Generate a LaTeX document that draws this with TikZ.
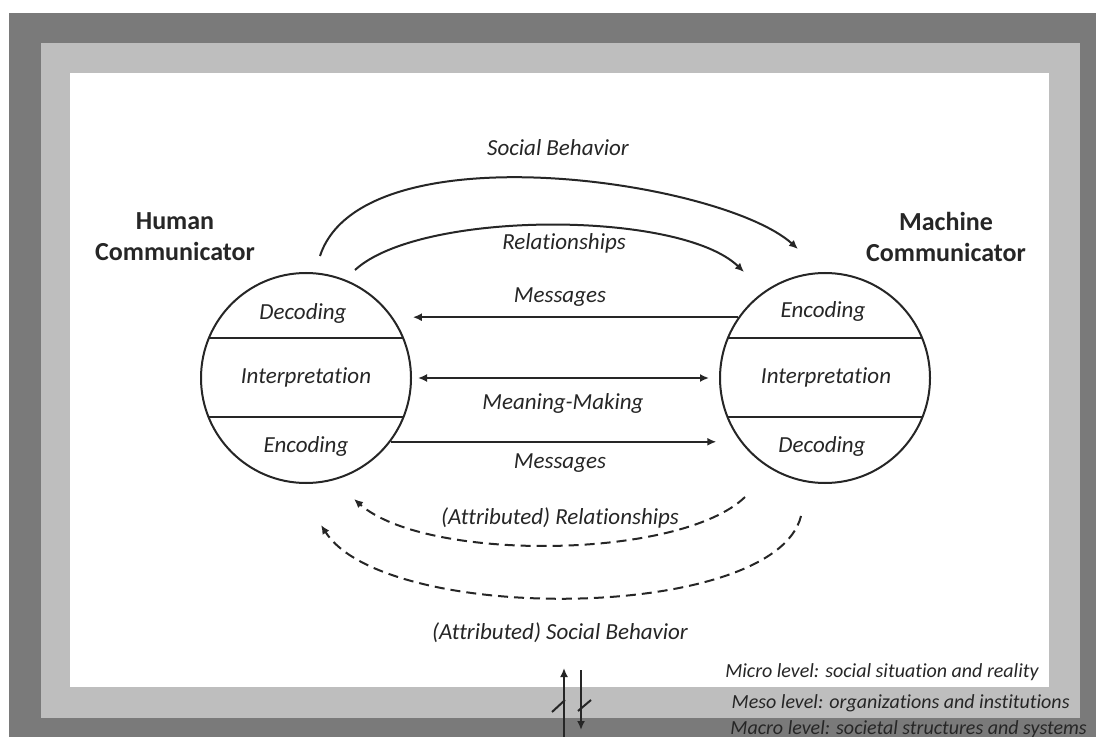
\documentclass[tikz,border=0pt]{standalone}
\usepackage{fontspec}
\setmainfont{Carlito}[Ligatures={NoCommon}]
\usetikzlibrary{arrows.meta, calc}
\definecolor{macrogray}{HTML}{7A7A7A}
\definecolor{mesogray}{HTML}{BEBEBE}
\definecolor{ink}{HTML}{262626}
\tikzset{
	lbl/.style={font=\itshape\fontsize{11.5}{13}\selectfont, text=ink, inner sep=1pt},
	lvl/.style={font=\itshape\fontsize{10}{12}\selectfont, text=ink, inner sep=0pt},
	who/.style={font=\bfseries\fontsize{13}{15.5}\selectfont, text=ink, align=center},
	comm/.style={circle, draw=ink, line width=1pt, minimum size=105pt, inner sep=0pt},
	flow/.style={draw=ink, line width=1pt},
	attr/.style={flow, dash pattern=on 5pt off 3pt},
}

\begin{document}
\begin{tikzpicture}[x=0.5pt, y=-0.5pt, >={Latex[length=4.5pt,width=4pt]}]
		\useasboundingbox (0,0) rectangle (1096,737);
		% Levels: macro, meso, micro
		\fill[macrogray] (9,13) rectangle (1100,740);
		\fill[mesogray] (41,43) rectangle (1080,718);
		\fill[white] (70,73) rectangle (1049,687);
		\node[lvl, anchor=east] (micro) at (1039,672) {Micro level: social situation and reality};
		\node[lvl, anchor=east] (meso) at (1070,703) {Meso level: organizations and institutions};
		\node[lvl, anchor=west] (macro) at (730,729) {Macro level: societal structures and systems};
		% Communicators
		\node[comm] (hum) at (306,378) {};
		\node[comm] (mach) at (825,378) {};
		\node[who] (hum-name) at (175,237) {Human\\Communicator};
		\node[who] (mach-name) at (946,237) {Machine\\Communicator};
		% Layers inside the circles
		\foreach \c in {hum, mach} {
			\draw[ink, line width=1pt] ($(\c.center)+(-97,-40)$) -- ($(\c.center)+(97,-40)$);
			\draw[ink, line width=1pt] ($(\c.center)+(-97,39)$) -- ($(\c.center)+(97,39)$);
		}
		\node[lbl] (hum-dec) at (303,313) {Decoding};
		\node[lbl] (hum-int) at (306,377) {Interpretation};
		\node[lbl] (hum-enc) at (306,446) {Encoding};
		\node[lbl] (mach-enc) at (823,311) {Encoding};
		\node[lbl] (mach-int) at (826,377) {Interpretation};
		\node[lbl] (mach-dec) at (822,446) {Decoding};
		% Messages and meaning-making
		\draw[flow, ->, shorten >=10pt] (mach.145) -- (hum.35);
		\draw[flow, <->, shorten <=3pt, shorten >=5pt] (hum.east) -- (mach.west);
		\draw[flow, ->, shorten >=12pt] (hum.-37.5) -- (mach.217.5);
		\node[lbl] (msg-in) at (560,297) {Messages};
		\node[lbl] (meaning) at (563,403) {Meaning-Making};
		\node[lbl] (msg-out) at (560,463) {Messages};
		% Upper arcs
		\coordinate (sb-from) at (320,256);
		\coordinate (sb-to) at (798,249);
		\coordinate (rel-from) at (355,270);
		\coordinate (rel-to) at (744,272);
		\draw[flow, ->] (sb-from) .. controls (362,128) and (721,180) .. (sb-to);
		\draw[flow, ->] (rel-from) .. controls (420,210) and (680,210) .. (rel-to);
		\node[lbl] (social) at (558,148) {Social Behavior};
		\node[lbl] (rel) at (564,243) {Relationships};
		% Lower arcs, dashed
		\coordinate (arel-from) at (745,497);
		\coordinate (arel-to) at (354,499);
		\coordinate (asb-from) at (801,516);
		\coordinate (asb-to) at (321,525);
		\draw[attr, ->] (arel-from) .. controls (680,560) and (425,562) .. (arel-to);
		\draw[attr, ->] (asb-from) .. controls (775,622) and (385,625) .. (asb-to);
		\node[lbl] (arel) at (560,518) {(Attributed) Relationships};
		\node[lbl] (asb) at (560,633) {(Attributed) Social Behavior};
		% Between the levels
		\coordinate (up-from) at (564,740);
		\coordinate (up-to) at (564,668);
		\coordinate (down-from) at (581,670);
		\coordinate (down-to) at (581,730);
		\draw[flow, ->] (up-from) -- (up-to);
		\draw[flow, ->] (down-from) -- (down-to);
		\draw[ink, line width=1pt] (552,712) -- (565,700);
		\draw[ink, line width=1pt] (578,711) -- (591,700);
\end{tikzpicture}
\end{document}
